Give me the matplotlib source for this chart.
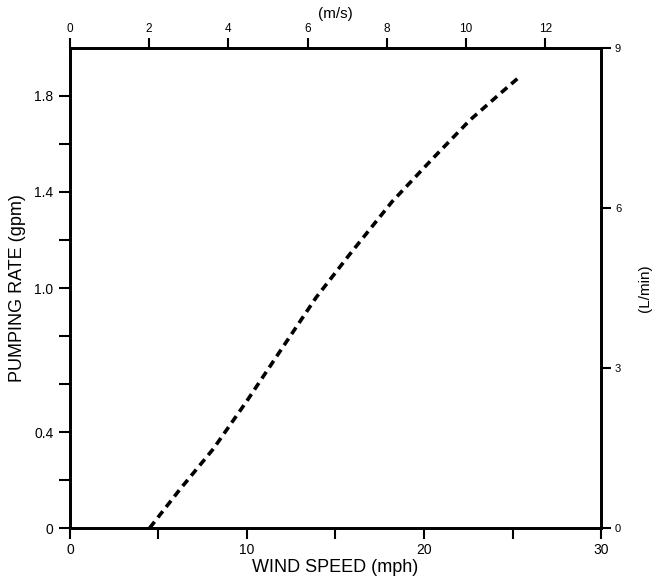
import numpy as np
import matplotlib.pyplot as plt
from matplotlib.ticker import FixedLocator, FuncFormatter

plt.rcParams["font.family"] = ["Liberation Sans", "DejaVu Sans"]

# pumping curve
wind_mph = [4.5, 6.2, 8.1, 10.0, 11.9, 13.9, 15.8, 18.2, 20.5, 22.6, 24.3, 25.4]
rate_gpm = [0.0, 0.16, 0.33, 0.53, 0.74, 0.96, 1.14, 1.36, 1.54, 1.70, 1.81, 1.88]

gpm_ticks = [0, 0.2, 0.4, 0.6, 0.8, 1.0, 1.2, 1.4, 1.6, 1.8]
gpm_labels = {0: "0", 0.4: "0.4", 1.0: "1.0", 1.4: "1.4", 1.8: "1.8"}
mph_ticks = [0, 5, 10, 15, 20, 25, 30]
mph_labels = {0: "0", 10: "10", 20: "20", 30: "30"}
ms_ticks = [0, 2, 4, 6, 8, 10, 12]
lmin_ticks = [0, 3, 6, 9]

MPH_TO_MS = 0.44704

fig = plt.figure(figsize=(6.59, 5.81), dpi=100)
ax = fig.add_axes([0.1062, 0.0912, 0.8058, 0.8262])

ax.plot(wind_mph, rate_gpm, color="black", lw=2.6, linestyle=(0, (2.2, 1.5)),
        solid_joinstyle="round")

ax.set_xlim(0, 30)
ax.set_ylim(0, 2.0)

ax.xaxis.set_major_locator(FixedLocator(mph_ticks))
ax.xaxis.set_major_formatter(FuncFormatter(lambda v, p: mph_labels.get(round(v), "")))
ax.yaxis.set_major_locator(FixedLocator(gpm_ticks))
ax.yaxis.set_major_formatter(FuncFormatter(lambda v, p: gpm_labels.get(round(v, 1), "")))

ax.tick_params(direction="out", length=8, width=1.5, labelsize=10)
ax.tick_params(axis="x", pad=3)
ax.tick_params(axis="y", pad=4)
for s in ax.spines.values():
    s.set_linewidth(1.8)

ax.set_xlabel("WIND SPEED (mph)", fontsize=13, labelpad=1)
ax.set_ylabel("PUMPING RATE (gpm)", fontsize=13, labelpad=6)

# metric axes
axt = ax.twiny()
axt.set_xlim(0, 30 * MPH_TO_MS)
axt.xaxis.set_major_locator(FixedLocator(ms_ticks))
axt.tick_params(direction="out", length=7, width=1.5, labelsize=8.5, pad=2)
axt.set_xlabel("(m/s)", fontsize=11, labelpad=4)

axr = ax.twinx()
axr.set_ylim(0, 9)
axr.yaxis.set_major_locator(FixedLocator(lmin_ticks))
axr.tick_params(direction="out", length=7, width=1.5, labelsize=8, pad=3)
axr.set_ylabel("(L/min)", fontsize=11, labelpad=12)

for a in (axt, axr):
    for s in a.spines.values():
        s.set_linewidth(1.8)

fig.savefig("out.png", dpi=100)
